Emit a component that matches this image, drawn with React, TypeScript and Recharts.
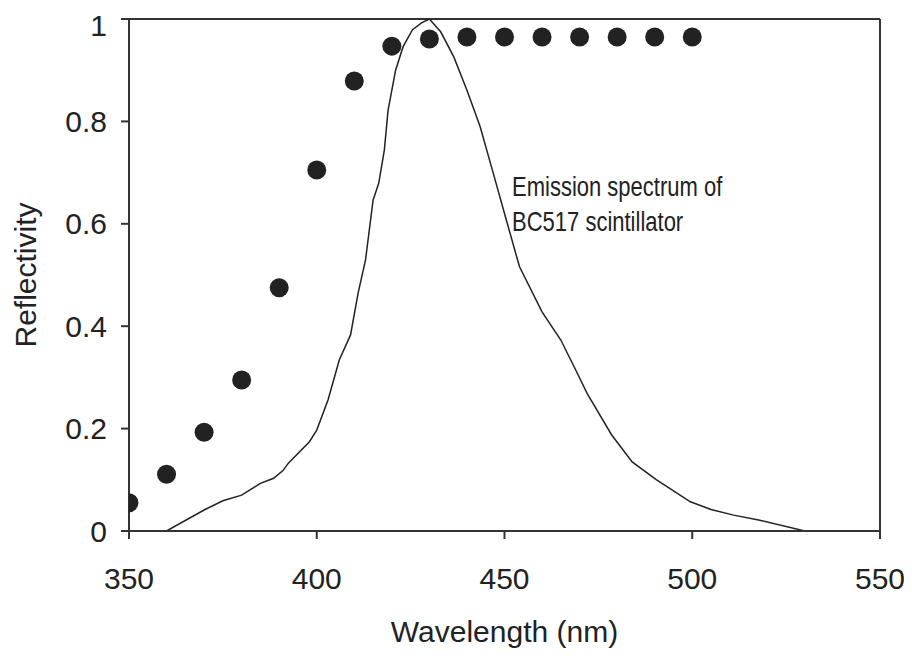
import React from 'react';
import { ComposedChart, Line, Scatter, XAxis, YAxis, ReferenceLine } from 'recharts';

// reflectivity measurements (dots)
const reflWavelengths = [350, 360, 370, 380, 390, 400, 410, 420, 430, 440, 450, 460, 470, 480, 490, 500];
const reflValues = [0.055, 0.111, 0.193, 0.295, 0.475, 0.705, 0.879, 0.947, 0.961, 0.965, 0.965, 0.965, 0.965, 0.965, 0.965, 0.965];

// BC517 emission spectrum (normalised)
const emissionWavelengths = [
  360, 370, 375, 380, 385, 388.5, 391, 392.5, 398, 400, 403, 406, 409, 411, 413, 415, 416.5, 418, 419, 421,
  423, 425.5, 428, 430, 433, 436.5, 440, 443.5, 447, 450, 454, 460, 465, 469, 472, 478.5, 484, 490.5, 499.5,
  505, 511, 518, 530,
];
const emissionValues = [
  0, 0.041, 0.059, 0.07, 0.093, 0.103, 0.118, 0.133, 0.174, 0.197, 0.256, 0.334, 0.383, 0.464, 0.53, 0.646,
  0.679, 0.744, 0.822, 0.9, 0.946, 0.979, 0.993, 1.0, 0.975, 0.926, 0.861, 0.79, 0.699, 0.62, 0.516, 0.428,
  0.373, 0.314, 0.269, 0.188, 0.135, 0.1, 0.057, 0.042, 0.031, 0.021, 0,
];

const xTicks = [350, 400, 450, 500, 550];
const yTicks = [0, 0.2, 0.4, 0.6, 0.8, 1];

const reflData = reflWavelengths.map((x, i) => ({ x, y: reflValues[i] }));
const emissionData = emissionWavelengths.map((x, i) => ({ x, y: emissionValues[i] }));

const FONT = "Arial, 'Liberation Sans', sans-serif";
const INK = '#222';

const Dot = (props: any) => <circle cx={props.cx} cy={props.cy} r={9.5} fill={INK} />;

const App = () => {
  return (
    <div style={{ position: 'relative', width: 896, height: 640, fontFamily: FONT }}>
      <ComposedChart width={896} height={640} margin={{ top: 11, right: 24, left: 0, bottom: 0 }}>
        <XAxis
          type="number"
          dataKey="x"
          domain={[350, 550]}
          ticks={xTicks}
          allowDataOverflow
          height={117}
          stroke="#333"
          strokeWidth={2}
          tickSize={8}
          tickMargin={29}
          tick={{ fill: INK, fontSize: 30, fontFamily: FONT }}
          label={{ value: 'Wavelength (nm)', position: 'insideBottom', offset: 6, fill: INK, fontSize: 30, fontFamily: FONT }}
        />
        <YAxis
          type="number"
          dataKey="y"
          domain={[0, 1]}
          ticks={yTicks}
          allowDataOverflow
          width={121}
          stroke="#333"
          strokeWidth={2}
          tickSize={8}
          tickMargin={14}
          tick={{ fill: INK, fontSize: 30, fontFamily: FONT }}
          label={{ value: 'Reflectivity', angle: -90, position: 'center', dx: -43, fill: INK, fontSize: 30, fontFamily: FONT }}
        />
        <ReferenceLine y={1} stroke="#333" strokeWidth={2} />
        <ReferenceLine x={550} stroke="#333" strokeWidth={2} />
        <Line
          data={emissionData}
          dataKey="y"
          type="linear"
          stroke={INK}
          strokeWidth={1.5}
          dot={false}
          activeDot={false}
          isAnimationActive={false}
        />
        <Scatter data={reflData} dataKey="y" fill={INK} shape={Dot} isAnimationActive={false} />
      </ComposedChart>
      <div
        style={{
          position: 'absolute',
          left: 504,
          top: 162,
          fontSize: 22,
          lineHeight: '28px',
          color: INK,
          whiteSpace: 'nowrap',
          transform: 'scaleY(1.25)',
          transformOrigin: 'top left',
        }}
      >
        Emission spectrum of
        <br />
        BC517 scintillator
      </div>
    </div>
  );
};

export default App;
